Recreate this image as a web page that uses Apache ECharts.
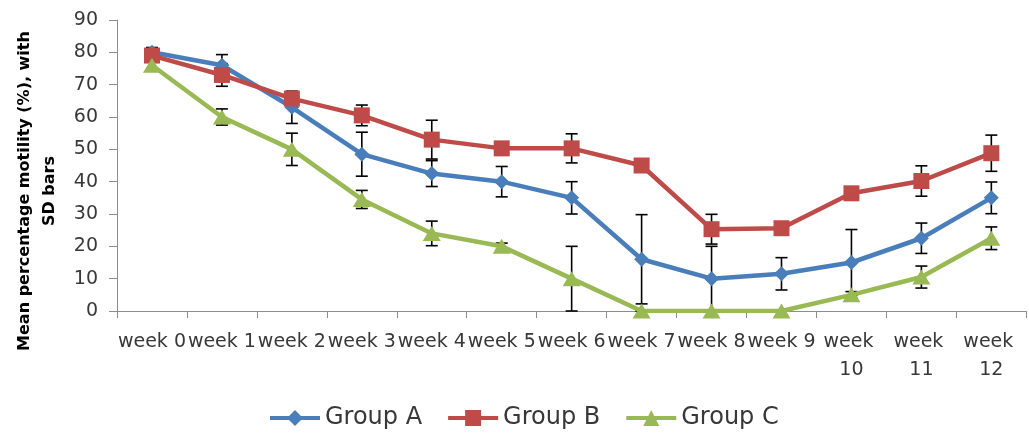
<!DOCTYPE html>
<html>
<head>
<meta charset="utf-8">
<title>Mean percentage motility</title>
<script src="https://cdn.jsdelivr.net/npm/echarts@6/dist/echarts.min.js"></script>
<style>
  html, body { margin: 0; padding: 0; background: #ffffff; }
  #chart { width: 1029px; height: 434px; }
</style>
</head>
<body>
<div id="chart"></div>
<script>
// Weekly sampling points
const weeks = ['week 0', 'week 1', 'week 2', 'week 3', 'week 4', 'week 5', 'week 6',
               'week 7', 'week 8', 'week 9', 'week 10', 'week 11', 'week 12'];

// Mean motility (%) per group
const groupA = [80, 76, 63, 48.5, 42.5, 40, 35, 16, 10, 11.5, 15, 22.5, 35];
const groupB = [79, 73, 65.7, 60.5, 53, 50.3, 50.3, 45, 25.3, 25.6, 36.4, 40.2, 48.8];
const groupC = [76, 60, 50, 34.5, 24, 20, 10, 0, 0, 0, 5, 10.5, 22.5];

// Standard deviations per group
const sdA = [1.5, 3.3, 5, 6.8, 4, 4.7, 5, 13.8, 10, 5, 10.2, 4.7, 4.9];
const sdB = [1.5, 3.5, 1.5, 3.2, 6, 1, 4.5, 1, 4.6, 1, 1, 4.7, 5.6];
const sdC = [1, 2.5, 5, 2.8, 3.8, 1, 10, 0, 0, 0, 1, 3.4, 3.5];

// Value axis ticks
const yTicks = [0, 10, 20, 30, 40, 50, 60, 70, 80, 90];

const FONT = 'DejaVu Sans';
const TEXT = '#383838';
const AXIS = '#8c8c8c';

function errorData(mean, sd) {
  return mean.map((m, i) => [i, Math.max(0, m - sd[i]), m + sd[i]]);
}

// Vertical SD whisker with short caps
function renderWhisker(params, api) {
  const lo = api.coord([api.value(0), api.value(1)]);
  const hi = api.coord([api.value(0), api.value(2)]);
  const half = 6;
  const style = { stroke: '#000000', lineWidth: 1.6 };
  return {
    type: 'group',
    children: [
      { type: 'line', shape: { x1: hi[0], y1: hi[1], x2: lo[0], y2: lo[1] }, style },
      { type: 'line', shape: { x1: hi[0] - half, y1: hi[1], x2: hi[0] + half, y2: hi[1] }, style },
      { type: 'line', shape: { x1: lo[0] - half, y1: lo[1], x2: lo[0] + half, y2: lo[1] }, style }
    ]
  };
}

function lineSeries(name, data, color, symbol, size) {
  return {
    name, type: 'line', data,
    symbol, symbolSize: size,
    showAllSymbol: true,
    lineStyle: { color, width: 4.5 },
    itemStyle: { color },
    emphasis: { disabled: true },
    animation: false
  };
}

function whiskerSeries(name, mean, sd) {
  return {
    name: name + ' SD', type: 'custom',
    data: errorData(mean, sd),
    encode: { x: 0, y: [1, 2] },
    renderItem: renderWhisker,
    silent: true,
    animation: false
  };
}

const chart = echarts.init(document.getElementById('chart'), null, { renderer: 'canvas' });

chart.setOption({
  backgroundColor: '#ffffff',
  textStyle: { fontFamily: FONT },
  grid: { left: 117, right: -6, top: 20, bottom: 123, containLabel: false },
  xAxis: {
    type: 'category',
    data: weeks,
    boundaryGap: true,
    axisLine: { lineStyle: { color: AXIS, width: 1 } },
    axisTick: { show: true, alignWithLabel: false, length: 7, lineStyle: { color: AXIS } },
    axisLabel: {
      interval: 0, color: TEXT, fontSize: 19, fontFamily: FONT,
      margin: 17, lineHeight: 28,
      width: 70, overflow: 'break'
    },
    splitLine: { show: false }
  },
  yAxis: {
    type: 'value',
    min: yTicks[0], max: yTicks[yTicks.length - 1], interval: 10,
    axisLine: { show: true, lineStyle: { color: AXIS, width: 1 } },
    axisTick: { show: true, length: 8, lineStyle: { color: AXIS } },
    axisLabel: { color: TEXT, fontSize: 19, fontFamily: FONT, margin: 19 },
    splitLine: { show: false }
  },
  legend: {
    data: ['Group A', 'Group B', 'Group C'],
    left: 263, top: 401,
    itemWidth: 50, itemHeight: 20, itemGap: 24,
    lineStyle: { width: 4 },
    textStyle: { color: TEXT, fontSize: 24, fontFamily: FONT },
    selectedMode: false
  },
  graphic: [{
    type: 'text',
    x: 37, y: 191,
    rotation: Math.PI / 2,
    silent: true,
    style: {
      text: 'Mean percentage motility (%), with\nSD bars',
      font: 'bold 16px "DejaVu Sans"',
      fill: '#000000',
      align: 'center', verticalAlign: 'middle',
      textAlign: 'center', textVerticalAlign: 'middle',
      lineHeight: 25
    }
  }],
  series: [
    lineSeries('Group A', groupA, '#4a7ebb', 'diamond', 15),
    whiskerSeries('Group A', groupA, sdA),
    lineSeries('Group B', groupB, '#be4b48', 'rect', 16),
    whiskerSeries('Group B', groupB, sdB),
    lineSeries('Group C', groupC, '#98b954', 'triangle', [18, 15]),
    whiskerSeries('Group C', groupC, sdC)
  ]
});
</script>
</body>
</html>
